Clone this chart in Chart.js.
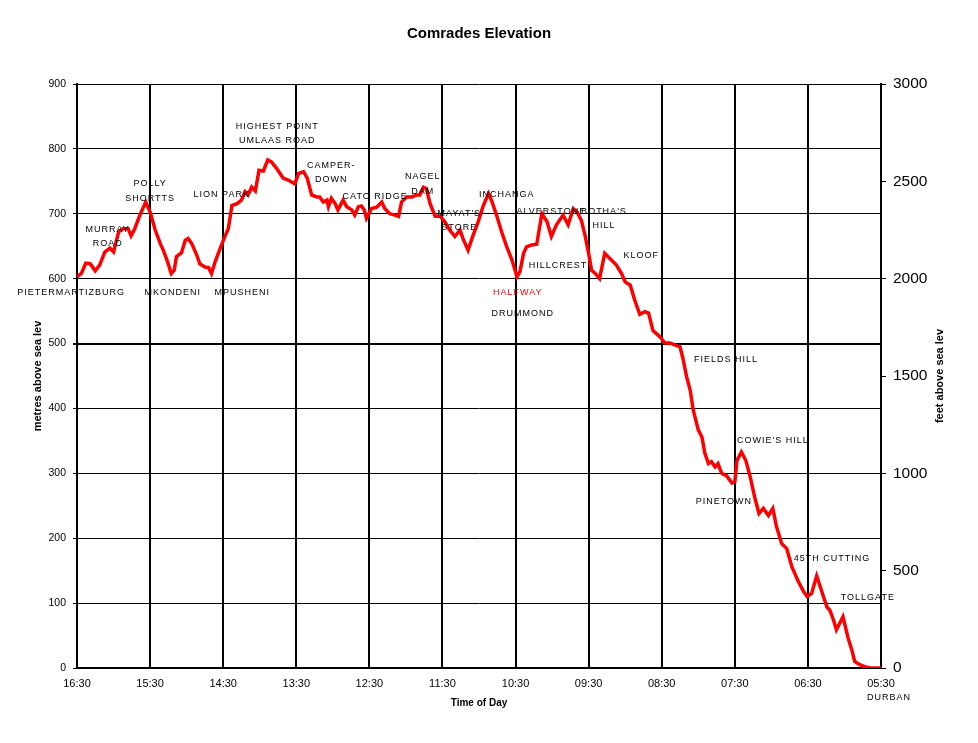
<!DOCTYPE html>
<html>
<head>
<meta charset="utf-8">
<title>Comrades Elevation</title>
<script src="https://cdn.jsdelivr.net/npm/chart.js@4.4.1/dist/chart.umd.min.js"></script>
<style>
    html, body { margin: 0; padding: 0; background: #fff; }
    #wrap { width: 978px; height: 743px; position: relative; }
</style>
</head>
<body>
<div id="wrap"><canvas id="elevationChart"></canvas></div>
<script>
// Eixo X: horas desde a largada (0 = 16:30 ... 11 = 05:30)
const timeLabels = ["16:30", "15:30", "14:30", "13:30", "12:30", "11:30",
                    "10:30", "09:30", "08:30", "07:30", "06:30", "05:30"];

// Perfil da corrida (horas, metros)
const routeHours = [
    0.00, 0.06, 0.12, 0.18, 0.25, 0.31, 0.38, 0.45, 0.50, 0.54,
    0.57, 0.63, 0.70, 0.74, 0.79, 0.86, 0.94, 1.00, 1.07, 1.14,
    1.18, 1.23, 1.29, 1.33, 1.36, 1.43, 1.48, 1.52, 1.57, 1.64,
    1.68, 1.75, 1.80, 1.84, 1.89, 1.96, 2.02, 2.07, 2.12, 2.18,
    2.25, 2.30, 2.34, 2.39, 2.44, 2.49, 2.55, 2.61, 2.66, 2.73,
    2.82, 2.89, 2.98, 3.03, 3.10, 3.15, 3.21, 3.28, 3.32, 3.37,
    3.42, 3.44, 3.48, 3.53, 3.57, 3.64, 3.69, 3.76, 3.80, 3.85,
    3.89, 3.93, 3.96, 4.03, 4.10, 4.17, 4.21, 4.28, 4.35, 4.40,
    4.44, 4.51, 4.58, 4.65, 4.69, 4.74, 4.78, 4.83, 4.90, 4.97,
    5.03, 5.10, 5.17, 5.24, 5.28, 5.35, 5.42, 5.49, 5.56, 5.63,
    5.67, 5.74, 5.81, 5.88, 5.95, 6.02, 6.06, 6.11, 6.15, 6.22,
    6.29, 6.36, 6.43, 6.49, 6.56, 6.65, 6.72, 6.79, 6.84, 6.90,
    6.95, 7.00, 7.04, 7.09, 7.15, 7.22, 7.29, 7.38, 7.45, 7.50,
    7.57, 7.63, 7.70, 7.77, 7.82, 7.88, 7.98, 8.04, 8.11, 8.18,
    8.25, 8.29, 8.34, 8.39, 8.43, 8.50, 8.55, 8.59, 8.64, 8.68,
    8.73, 8.77, 8.82, 8.89, 8.96, 9.00, 9.03, 9.09, 9.15, 9.21,
    9.27, 9.33, 9.39, 9.46, 9.52, 9.57, 9.64, 9.71, 9.78, 9.87,
    9.94, 9.99, 10.05, 10.12, 10.19, 10.26, 10.30, 10.35, 10.39, 10.48,
    10.55, 10.60, 10.64, 10.71, 10.78, 10.85, 11.00
];
const elevationMetres = [
    603, 608, 624, 623, 612, 621, 641, 647, 641, 659,
    672, 677, 677, 666, 677, 698, 718, 703, 675, 654,
    644, 629, 608, 613, 634, 640, 659, 662, 654, 636,
    623, 618, 617, 608, 626, 647, 664, 677, 713, 715,
    721, 734, 729, 741, 735, 767, 766, 783, 780, 770,
    755, 752, 746, 762, 765, 755, 729, 726, 726, 718,
    721, 711, 724, 716, 706, 721, 711, 706, 698, 711,
    712, 706, 693, 708, 710, 718, 708, 700, 698, 696,
    718, 726, 726, 729, 729, 741, 739, 716, 696, 696,
    688, 675, 665, 675, 662, 644, 667, 688, 713, 731,
    721, 698, 672, 649, 629, 603, 611, 639, 649, 652,
    653, 700, 688, 665, 683, 698, 683, 708, 703, 690,
    667, 639, 613, 608, 600, 639, 631, 621, 608, 595,
    590, 567, 545, 549, 547, 520, 510, 501, 501, 498,
    495, 477, 449, 428, 398, 367, 356, 331, 315, 318,
    310, 315, 300, 296, 285, 287, 320, 333, 320, 295,
    264, 238, 246, 235, 246, 218, 192, 184, 156, 133,
    118, 110, 115, 142, 118, 94, 89, 74, 59, 79,
    46, 28, 10, 5, 2, 0, 0
];

// Nomes dos pontos do percurso (ancorados em horas / metros)
const placeNames = [
    ["PIETERMARTIZBURG"], ["MURRAY", "ROAD"], ["POLLY", "SHORTTS"], ["MKONDENI"],
    ["LION PARK"], ["MPUSHENI"], ["HIGHEST POINT", "UMLAAS ROAD"], ["CAMPER-", "DOWN"],
    ["CATO RIDGE"], ["NAGEL", "DAM"], ["MAYAT'S", "STORE"], ["INCHANGA"],
    ["ALVERSTONE"], ["BOTHA'S", "HILL"], ["KLOOF"], ["HILLCREST"],
    ["HALFWAY"], ["DRUMMOND"], ["FIELDS HILL"], ["COWIE'S HILL"],
    ["PINETOWN"], ["45TH CUTTING"], ["TOLLGATE"], ["DURBAN"]
];
const placeHours = [
    -0.08, 0.42, 1.00, 1.31, 1.98, 2.26, 2.74, 3.48,
    4.08, 4.73, 5.23, 5.88, 6.49, 7.21, 7.72, 6.58,
    6.03, 6.10, 8.88, 9.52, 8.85, 10.33, 10.82, 11.11
];
const placeMetres = [
    579, 676, 746, 579, 729, 579, 835, 775,
    727, 757, 701, 730, 704, 704, 636, 620,
    579, 547, 476, 350, 257, 168, 108, -45
];
const halfwayName = "HALFWAY";

const fontFamily = '"Liberation Sans", Arial, sans-serif';
Chart.defaults.font.family = fontFamily;
Chart.defaults.color = "#000";

const placeLabels = {
    id: "placeLabels",
    afterDatasetsDraw(chart) {
        const { ctx, scales: { x, y } } = chart;
        ctx.save();
        ctx.font = "9px " + fontFamily;
        ctx.letterSpacing = "1px";
        ctx.textAlign = "center";
        ctx.textBaseline = "middle";
        placeNames.forEach((lines, i) => {
            const px = x.getPixelForValue(placeHours[i]);
            const py = y.getPixelForValue(placeMetres[i]);
            ctx.fillStyle = lines[0] === halfwayName ? "#ff0000" : "#000";
            lines.forEach((t, j) => ctx.fillText(t, px, py + j * 14.5));
        });
        ctx.restore();
    },
    afterDraw(chart) {
        const { ctx, chartArea } = chart;
        ctx.save();
        ctx.fillStyle = "#000";
        ctx.textAlign = "center";
        ctx.textBaseline = "middle";
        // titulo
        ctx.font = "bold 15px " + fontFamily;
        ctx.fillText("Comrades Elevation", (chartArea.left + chartArea.right) / 2, 34);
        // titulo do eixo da direita (lido de baixo para cima)
        ctx.font = "bold 11px " + fontFamily;
        ctx.translate(940, (chartArea.top + chartArea.bottom) / 2);
        ctx.rotate(-Math.PI / 2);
        ctx.fillText("feet above sea lev", 0, 0);
        ctx.restore();
    }
};

const points = routeHours.map((h, i) => ({ x: h, y: elevationMetres[i] }));

new Chart(document.getElementById("elevationChart"), {
    type: "line",
    data: {
        datasets: [{
            label: "Elevation",
            data: points,
            borderColor: "#ff0000",
            borderWidth: 3.5,
            pointRadius: 0,
            tension: 0,
            fill: false,
            yAxisID: "y"
        }, {
            // serie vazia so para ativar o eixo em pes
            label: "feet",
            data: [],
            yAxisID: "y2"
        }]
    },
    options: {
        responsive: true,
        maintainAspectRatio: false,
        animation: false,
        layout: { padding: { top: 84, left: 0, right: 0, bottom: 0 } },
        plugins: {
            legend: { display: false },
            title: { display: false },
            tooltip: { enabled: false }
        },
        scales: {
            x: {
                type: "linear",
                min: 0,
                max: 11,
                afterFit: s => { s.height = 75; },
                ticks: {
                    stepSize: 1,
                    padding: 9,
                    maxRotation: 0,
                    font: { size: 11 },
                    callback: v => timeLabels[v]
                },
                grid: { color: "#000", lineWidth: 2, drawTicks: false },
                border: { color: "#000", width: 2 },
                title: {
                    display: true,
                    text: "Time of Day",
                    font: { size: 10, weight: "bold" },
                    padding: { top: 0, bottom: 34 }
                }
            },
            y: {
                position: "left",
                min: 0,
                max: 900,
                afterFit: s => { s.width = 77; },
                ticks: { stepSize: 100, padding: 7, font: { size: 10.5 } },
                grid: {
                    color: "#000",
                    lineWidth: c => (c.tick && c.tick.value === 500 ? 2 : 1),
                    tickLength: 4
                },
                border: { color: "#000", width: 2 },
                title: {
                    display: true,
                    text: "metres above sea lev",
                    font: { size: 11, weight: "bold" },
                    padding: { top: 31, bottom: 0 }
                }
            },
            y2: {
                position: "right",
                min: 0,
                max: 3000,
                afterFit: s => { s.width = 97; },
                ticks: {
                    stepSize: 500,
                    padding: 7,
                    font: { size: 15.5 },
                    callback: v => String(v)
                },
                grid: { drawOnChartArea: false, color: "#000", lineWidth: 1, tickLength: 5 },
                border: { color: "#000", width: 2 }
            }
        }
    },
    plugins: [placeLabels]
});
</script>
</body>
</html>
